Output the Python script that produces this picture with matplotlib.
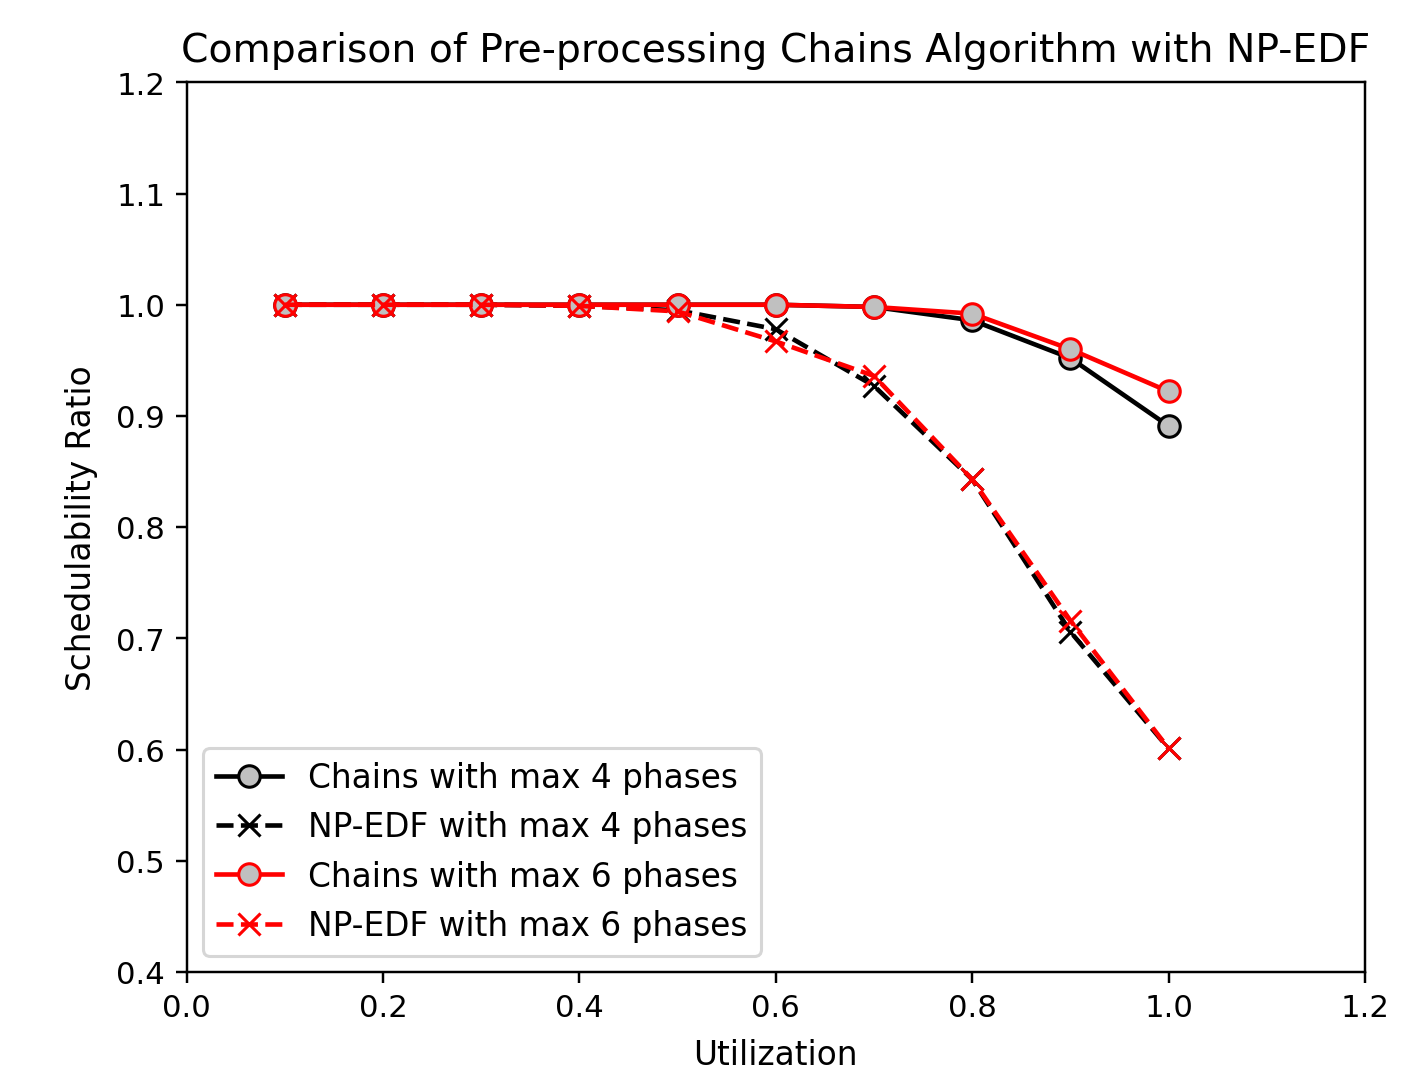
import matplotlib
matplotlib.use("Agg")
import matplotlib.pyplot as plt

utilization = [0.1, 0.2, 0.3, 0.4, 0.5, 0.6, 0.7, 0.8, 0.9, 1.0]
chains_4 = [1.0, 1.0, 1.0, 1.0, 1.0, 1.0, 0.998, 0.986, 0.952, 0.891]
npedf_4 = [1.0, 1.0, 1.0, 0.999, 0.995, 0.978, 0.927, 0.843, 0.706, 0.601]
chains_6 = [1.0, 1.0, 1.0, 1.0, 1.0, 1.0, 0.998, 0.992, 0.960, 0.922]
npedf_6 = [1.0, 1.0, 1.0, 0.999, 0.994, 0.967, 0.936, 0.843, 0.716, 0.601]

fig = plt.figure(figsize=(6.4, 4.85), dpi=221)
ax = fig.add_axes([0.132, 0.0924, 0.833, 0.83])

ax.plot(utilization, chains_4, "-o", color="black", markerfacecolor="silver",
        markersize=7, label="Chains with max 4 phases")
ax.plot(utilization, npedf_4, "--x", color="black", markersize=7,
        label="NP-EDF with max 4 phases")
ax.plot(utilization, chains_6, "-o", color="red", markerfacecolor="silver",
        markersize=7, label="Chains with max 6 phases")
ax.plot(utilization, npedf_6, "--x", color="red", markersize=7,
        label="NP-EDF with max 6 phases")

ax.set_xlim(0.0, 1.2)
ax.set_ylim(0.4, 1.2)
ax.set_title("Comparison of Pre-processing Chains Algorithm with NP-EDF",
             fontsize=12.8, pad=7)
ax.set_xlabel("Utilization", fontsize=10.7, labelpad=5)
ax.set_ylabel("Schedulability Ratio", fontsize=10.7, labelpad=6)
ax.legend(loc="lower left", fontsize=10.7, labelspacing=0.5,
          handletextpad=0.8)

fig.savefig("out.png", dpi=221)
